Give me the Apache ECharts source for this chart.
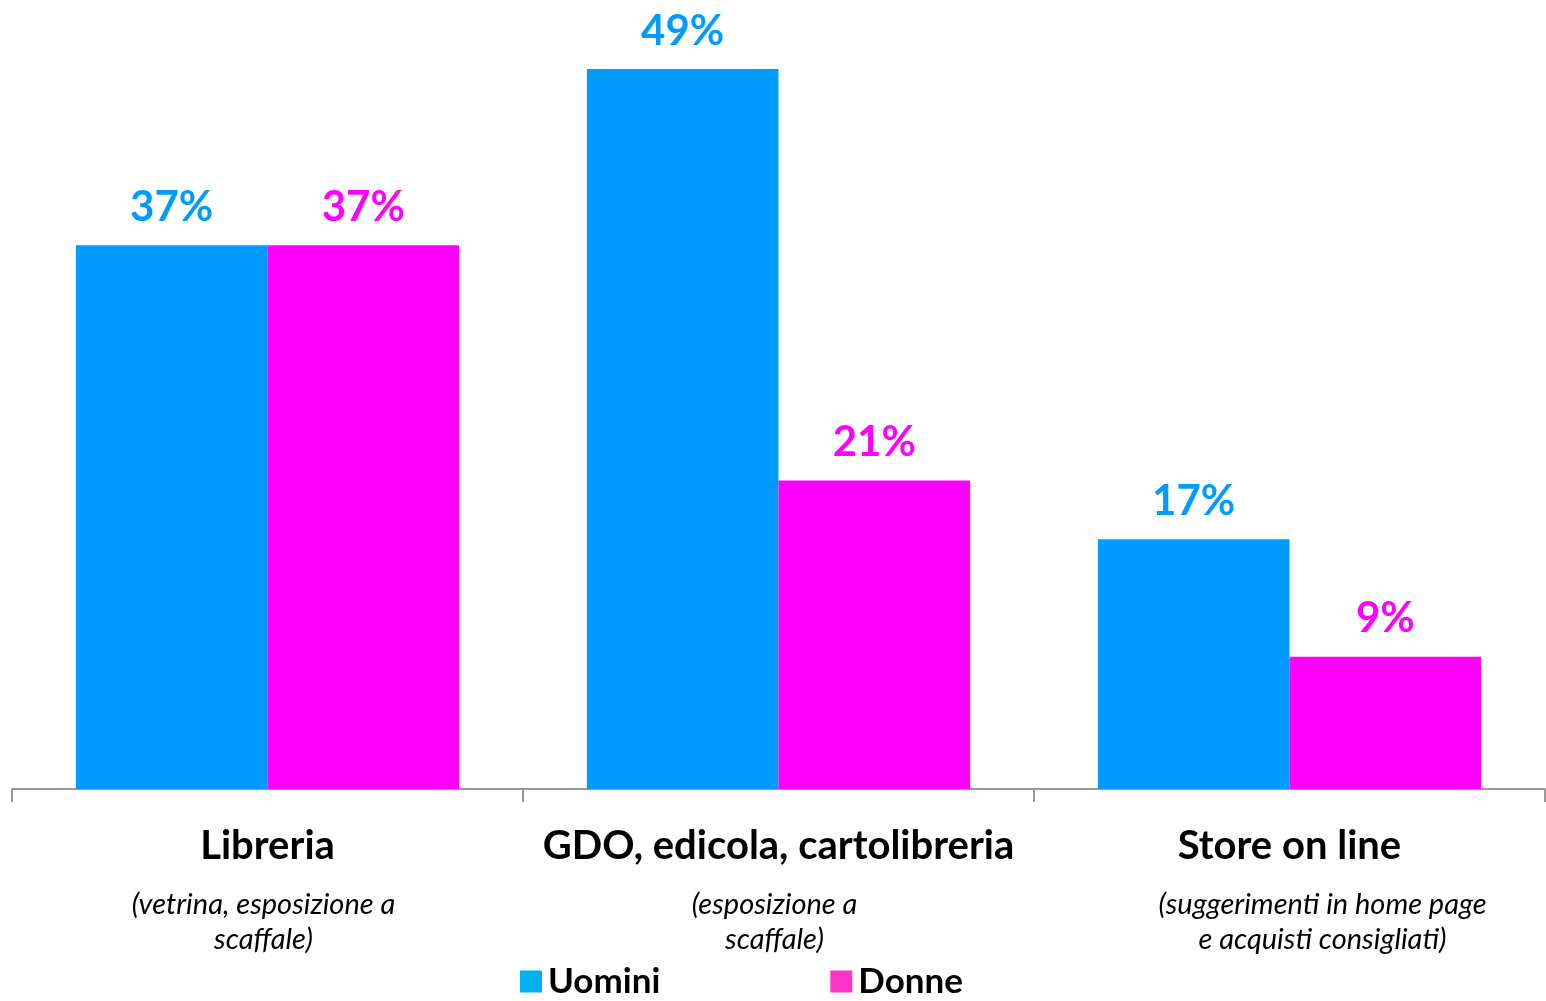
<!DOCTYPE html>
<html><head><meta charset="utf-8">
<script src="https://cdn.jsdelivr.net/npm/echarts@6/dist/echarts.min.js"></script>
<style>html,body{margin:0;padding:0;background:#fff}#c{width:1546px;height:1001px}</style>
</head><body><div id="c"></div>
<script>
var categories = ['Libreria', 'GDO, edicola, cartolibreria', 'Store on line'];
var subtitles = [['(vetrina, esposizione a', 'scaffale)'], ['(esposizione a', 'scaffale)'], ['(suggerimenti in home page', 'e acquisti consigliati)']];
var uomini = [37, 49, 17];
var donne = [37, 21, 9];
var seriesNames = ['Uomini', 'Donne'];

var FONT = 'Lato';
var chart = echarts.init(document.getElementById('c'), null, {renderer: 'canvas'});
function lab(color) {
  return {show: true, position: 'top', distance: 17, formatter: '{c}%', color: color,
    fontFamily: FONT, fontWeight: 'bold', fontSize: 42};
}
chart.setOption({
  animation: false,
  backgroundColor: '#fff',
  grid: {left: 12, right: 1, top: 789 - 50 * 14.694, bottom: 212, containLabel: false},
  legend: {
    left: 515, top: 959, itemWidth: 22, itemHeight: 22, itemGap: 170, icon: 'rect',
    textStyle: {fontFamily: FONT, fontWeight: 'bold', fontSize: 35, color: '#000', padding: [0, 0, 0, 1]},
    data: [
      {name: seriesNames[0], itemStyle: {color: '#00B0F0'}},
      {name: seriesNames[1], itemStyle: {color: '#FF33CC'}}
    ]
  },
  xAxis: {
    type: 'category', data: categories,
    axisLine: {lineStyle: {color: '#999', width: 2}},
    axisTick: {show: true, length: 13, lineStyle: {color: '#999', width: 2}},
    axisLabel: {
      margin: 17, interval: 0,
      formatter: function (v, i) {
        var s = subtitles[i];
        var k = i === 2 ? 'r' : 's';
        return '{t|' + v + '}\n{' + k + '|' + s[0] + '}\n{' + k + '|' + s[1] + '}';
      },
      rich: {
        t: {fontFamily: FONT, fontWeight: 'bold', fontSize: 40, color: '#000', lineHeight: 81},
        s: {fontFamily: FONT, fontStyle: 'italic', fontSize: 29, color: '#000', lineHeight: 35, padding: [0, 8, 0, 0]},
        r: {fontFamily: FONT, fontStyle: 'italic', fontSize: 29, color: '#000', lineHeight: 35, padding: [0, 0, 0, 66]}
      }
    }
  },
  yAxis: {type: 'value', min: 0, max: 50, show: false, splitLine: {show: false}},
  series: [
    {name: seriesNames[0], type: 'bar', data: uomini, barGap: '0%', barCategoryGap: '25%',
      itemStyle: {color: '#009BFF'}, label: lab('#009BFF')},
    {name: seriesNames[1], type: 'bar', data: donne,
      itemStyle: {color: '#FF00FF'}, label: lab('#FF00FF')}
  ]
});
</script></body></html>
